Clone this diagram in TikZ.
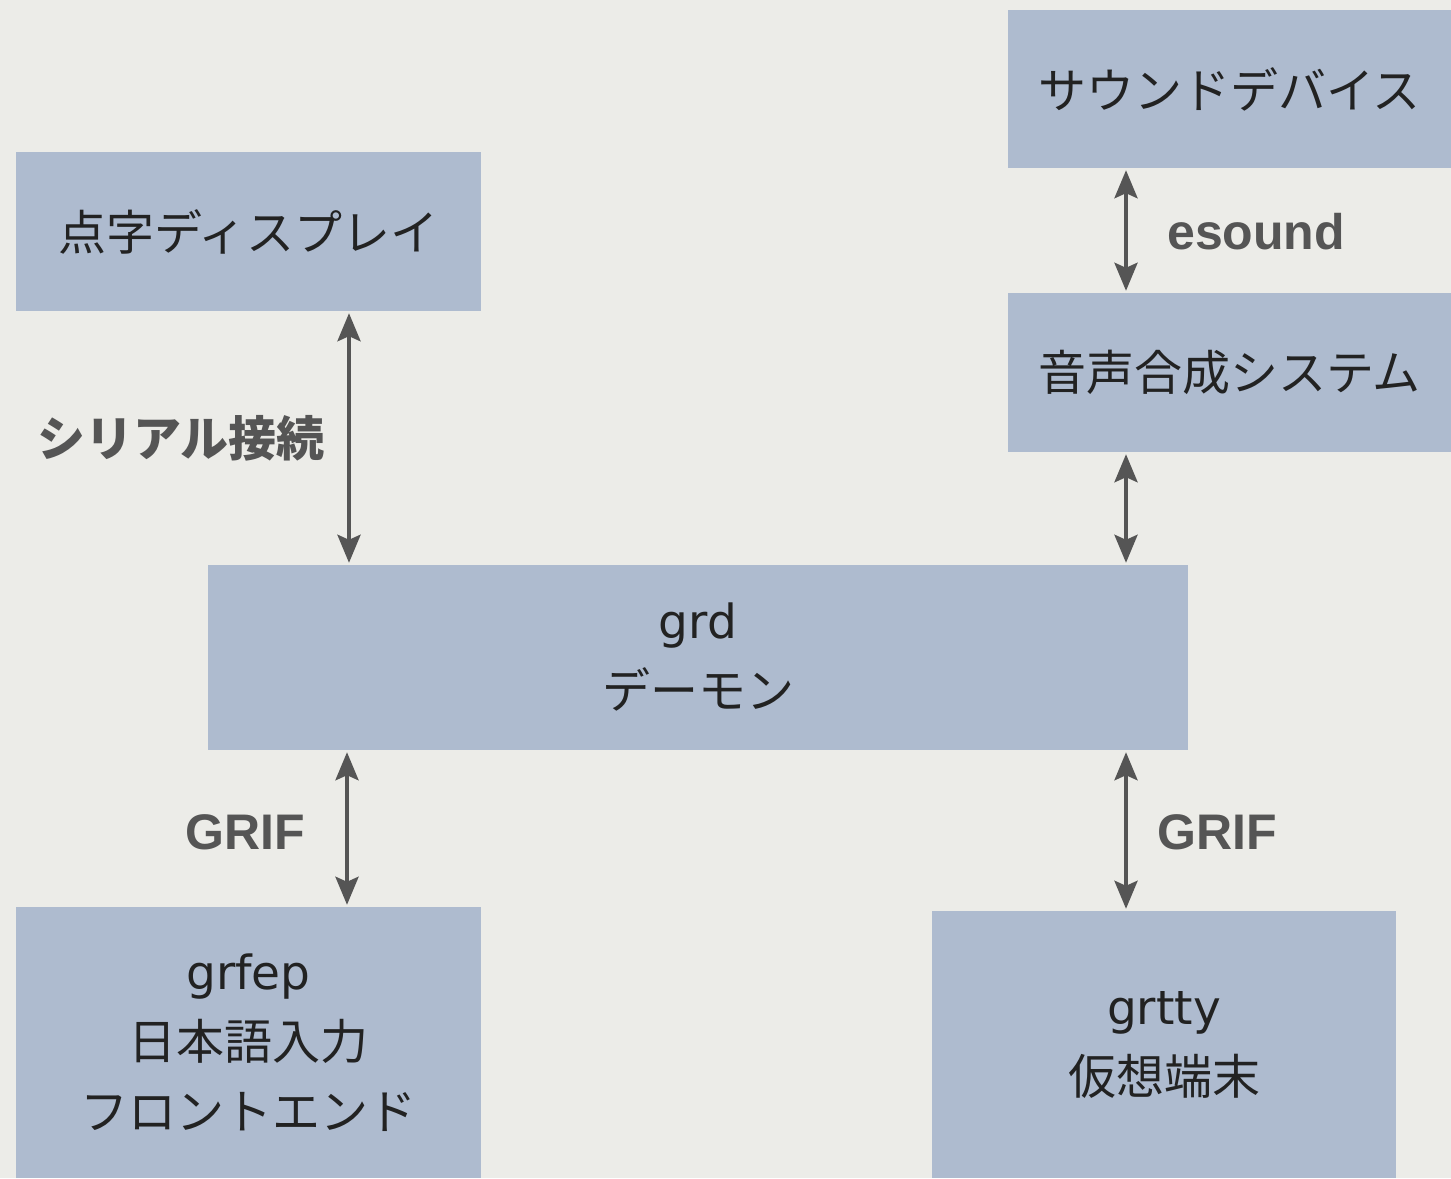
\documentclass[tikz,border=0pt]{standalone}
\usepackage{fontspec}
\setmainfont{Noto Sans CJK JP}
\newfontfamily\latinfont{DejaVu Sans}
\newfontfamily\labelfont{Liberation Sans}
\usetikzlibrary{arrows.meta,shapes}
\definecolor{paper}{RGB}{236,236,232}
\definecolor{boxblue}{RGB}{174,187,207}
\definecolor{boxtext}{RGB}{34,34,34}
\definecolor{linkgray}{RGB}{85,85,85}
\newcommand{\lt}[1]{{\latinfont\fontsize{47}{70}\selectfont #1}}
\newcommand{\lb}[1]{{\labelfont\fontsize{50}{60}\bfseries\selectfont #1}}
\tikzstyle{block}=[rectangle,fill=boxblue,text=boxtext,inner sep=0pt,align=center,font=\fontsize{48}{70}\selectfont]
\tikzstyle{link}=[draw=linkgray,line width=4pt,{Stealth[length=28pt,width=23pt,inset=5pt]}-{Stealth[length=28pt,width=23pt,inset=5pt]},shorten <=2pt,shorten >=2pt]
\tikzstyle{linklabel}=[text=linkgray,inner sep=0pt,font=\fontsize{48}{58}\bfseries\selectfont]

\begin{document}
\begin{tikzpicture}[x=1pt,y=-1pt]
    % Background of the slide
    \fill[paper] (0,0) rectangle (1451,1178);
    \useasboundingbox (0,0) rectangle (1451,1178);

    % First we draw the blocks
    \node[block,minimum width=443pt,minimum height=158pt] (sound) at (1229.5,89) {サウンドデバイス};
    \node[block,minimum width=465pt,minimum height=159pt] (braille) at (248.5,231.5) {点字ディスプレイ};
    \node[block,minimum width=443pt,minimum height=159pt] (synth) at (1229.5,372.5) {音声合成システム};
    \node[block,minimum width=980pt,minimum height=185pt] (grd) at (698,657.5) {\lt{grd}\\デーモン};
    \node[block,minimum width=465pt,minimum height=271pt] (grfep) at (248.5,1042.5) {\lt{grfep}\\日本語入力\\フロントエンド};
    \node[block,minimum width=464pt,minimum height=267pt] (grtty) at (1164,1044.5) {\lt{grtty}\\仮想端末};

    % Connect blocks with arrows
    \path[link] ([xshift=100.5pt]braille.south) -- ([xshift=100.5pt]braille.south |- grd.north);
    \path[link] ([xshift=-103.5pt]sound.south) -- ([xshift=-103.5pt]sound.south |- synth.north);
    \path[link] ([xshift=-103.5pt]synth.south) -- ([xshift=-103.5pt]synth.south |- grd.north);
    \path[link] ([xshift=98.5pt]grfep.north |- grd.south) -- ([xshift=98.5pt]grfep.north);
    \path[link] ([xshift=-38pt]grtty.north |- grd.south) -- ([xshift=-38pt]grtty.north);

    % Labels of the links
    \node[linklabel,anchor=east] (serial) at (325,438) {シリアル接続};
    \node[linklabel,anchor=west] (esound) at (1167,232) {\lb{esound}};
    \node[linklabel,anchor=east] (grifl) at (305,832) {\lb{GRIF}};
    \node[linklabel,anchor=west] (grifr) at (1157,832) {\lb{GRIF}};
\end{tikzpicture}
\end{document}
